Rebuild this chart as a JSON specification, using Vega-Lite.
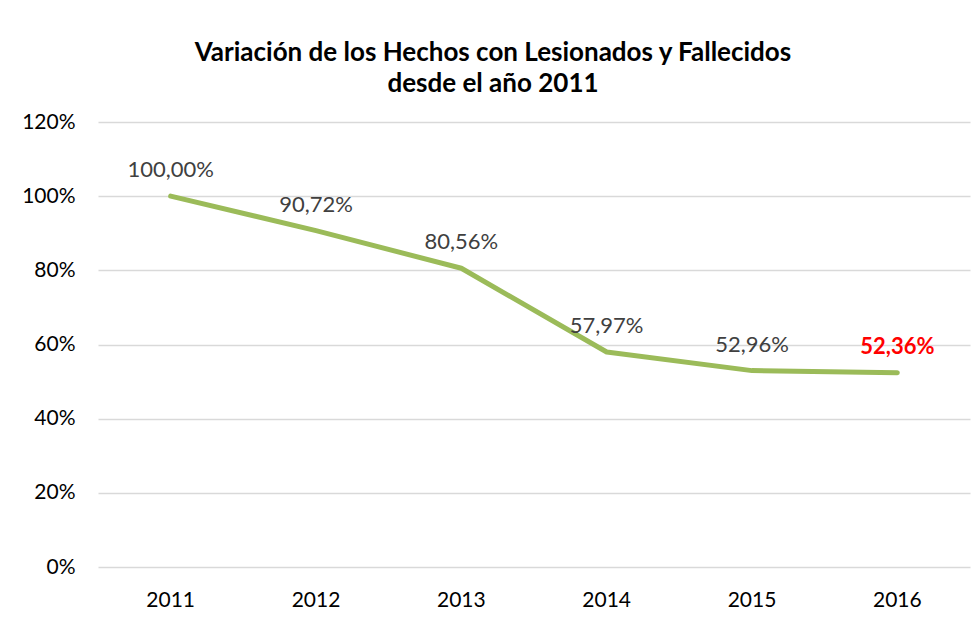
{
  "$schema": "https://vega.github.io/schema/vega-lite/v6.json",
  "width": 872,
  "height": 445,
  "autosize": "none",
  "padding": {"left": 98, "top": 122, "right": 6, "bottom": 50},
  "background": "white",
  "config": {
    "font": "Lato",
    "view": {"stroke": null},
    "locale": {"number": {"decimal": ",", "thousands": ".", "grouping": [3], "currency": ["", " €"]}}
  },
  "title": {
    "text": ["Variación de los Hechos con Lesionados y Fallecidos", "desde el año 2011"],
    "font": "Lato",
    "fontSize": 26,
    "fontWeight": "bold",
    "color": "#000000",
    "anchor": "middle",
    "frame": "group",
    "dx": -41,
    "lineHeight": 31,
    "offset": 14
  },
  "data": {
    "values": [
      {"year": "2011", "value": 1.0},
      {"year": "2012", "value": 0.9072},
      {"year": "2013", "value": 0.8056},
      {"year": "2014", "value": 0.5797},
      {"year": "2015", "value": 0.5296},
      {"year": "2016", "value": 0.5236}
    ]
  },
  "encoding": {
    "x": {
      "field": "year", "type": "ordinal",
      "scale": {"type": "band", "paddingInner": 0, "paddingOuter": 0},
      "axis": {
        "title": null, "labelAngle": 0, "labelFontSize": 21, "labelColor": "#000000",
        "labelFont": "Lato", "ticks": false, "domain": false, "labelPadding": 22
      }
    },
    "y": {
      "field": "value", "type": "quantitative",
      "scale": {"domain": [0, 1.2], "nice": false},
      "axis": {
        "title": null, "format": ".0%", "values": [0, 0.2, 0.4, 0.6, 0.8, 1.0, 1.2],
        "labelFontSize": 21, "labelColor": "#000000", "labelFont": "Lato",
        "ticks": false, "domain": false, "labelPadding": 23,
        "grid": true, "gridColor": "#d9d9d9", "gridWidth": 1.3
      }
    }
  },
  "layer": [
    {
      "mark": {"type": "line", "color": "#9bbb59", "strokeWidth": 5, "strokeCap": "round", "strokeJoin": "round"}
    },
    {
      "transform": [{"filter": "datum.year != '2016'"}],
      "mark": {"type": "text", "dy": -26, "fontSize": 22, "color": "#404040", "font": "Lato"},
      "encoding": {"text": {"field": "value", "type": "quantitative", "format": ".2%"}}
    },
    {
      "transform": [{"filter": "datum.year == '2016'"}],
      "mark": {"type": "text", "dy": -26, "fontSize": 22, "fontWeight": "bold", "color": "#ff0000", "font": "Lato"},
      "encoding": {"text": {"field": "value", "type": "quantitative", "format": ".2%"}}
    }
  ]
}
